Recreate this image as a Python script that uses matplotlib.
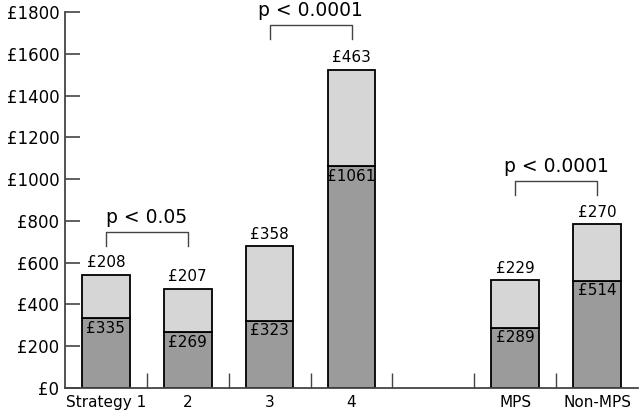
import numpy as np
import matplotlib.pyplot as plt

labels = ["Strategy 1", "2", "3", "4", "", "MPS", "Non-MPS"]
bottom_vals = [335, 269, 323, 1061, 0, 289, 514]
top_vals = [208, 207, 358, 463, 0, 229, 270]

# significance brackets: (left index, right index, height, text)
brackets = [(0, 1, 747, "p < 0.05"),
            (2, 3, 1738, "p < 0.0001"),
            (5, 6, 991, "p < 0.0001")]

plt.rcParams['font.family'] = ['DejaVu Sans']

fig = plt.figure(figsize=(6.4, 4.16), dpi=100)
ax = fig.add_axes([65/640, 28/416, 573/640, 376/416])

x = np.arange(len(labels))
bottom_vals = np.array(bottom_vals)
top_vals = np.array(top_vals)
show = bottom_vals > 0

ax.bar(x[show], bottom_vals[show], width=0.58, color="#9b9b9b",
       edgecolor="black", linewidth=1.3)
ax.bar(x[show], top_vals[show], width=0.58, bottom=bottom_vals[show],
       color="#d6d6d6", edgecolor="black", linewidth=1.3)

for xi, b, t in zip(x[show], bottom_vals[show], top_vals[show]):
    ax.annotate(f"£{b}", (xi, b), xytext=(0, -2), textcoords="offset points",
                ha="center", va="top", fontsize=11)
    ax.annotate(f"£{t}", (xi, b + t), xytext=(0, 3), textcoords="offset points",
                ha="center", va="bottom", fontsize=11)

for i, j, h, txt in brackets:
    ax.plot([i, i, j, j], [h - 65, h, h, h - 65], color="#444444",
            linewidth=1, clip_on=False)
    ax.text((i + j) / 2, h + 22, txt, ha="center", va="bottom",
            fontsize=13.5, clip_on=False)

ax.set_xlim(-0.5, 6.5)
ax.set_ylim(0, 1800)
ax.set_yticks(np.arange(0, 1801, 200))
ax.set_yticklabels([f"£{v}" for v in range(0, 1801, 200)])
ax.set_xticks(x)
ax.set_xticklabels(labels)
ax.set_xticks(np.arange(0.5, 6, 1), minor=True)
ax.tick_params(axis="x", which="major", length=0, labelsize=11, pad=5)
ax.tick_params(axis="x", which="minor", direction="in", length=11,
               width=1, color="#444444")
ax.tick_params(axis="y", direction="in", length=11, width=1.2,
               color="#444444", labelsize=12, pad=4)

for s in ["top", "right"]:
    ax.spines[s].set_visible(False)
for s in ["left", "bottom"]:
    ax.spines[s].set_linewidth(1.3)
    ax.spines[s].set_color("#444444")

fig.savefig("out.png", dpi=100)
